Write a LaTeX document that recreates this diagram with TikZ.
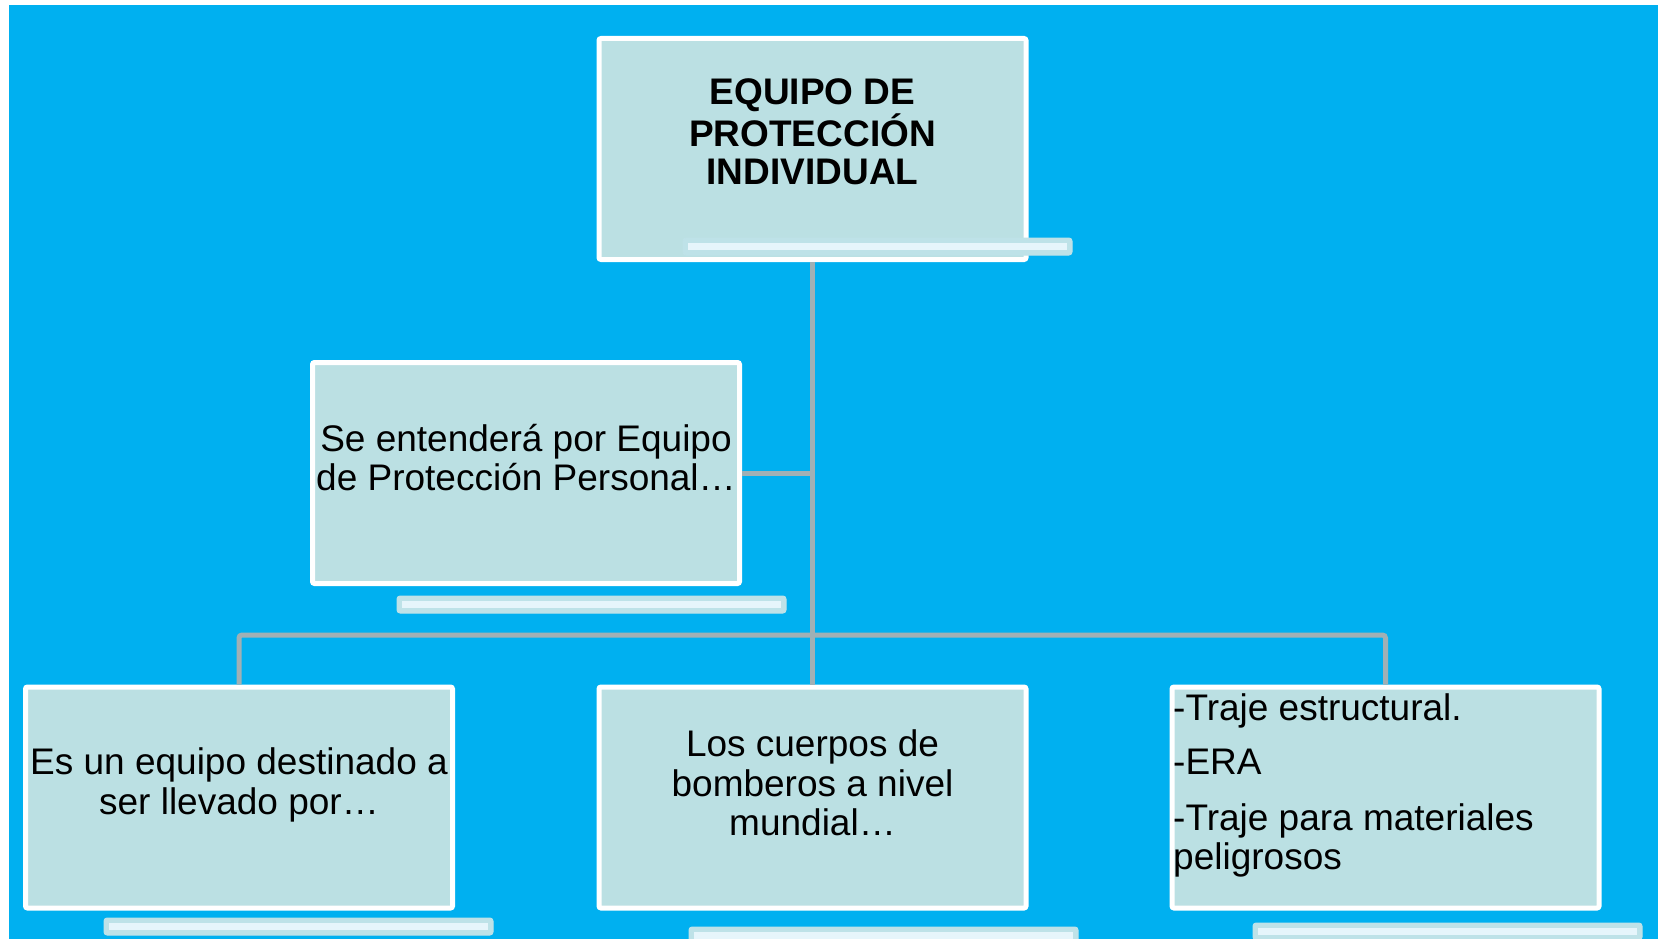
\documentclass[tikz,border=0pt]{standalone}
\usepackage{fontspec}
\setmainfont{Liberation Sans}
\usepackage{tikz}
\usetikzlibrary{positioning}

\definecolor{fondo}{RGB}{0,176,240}
\definecolor{caja}{RGB}{187,224,227}
\definecolor{linea}{RGB}{160,176,181}
\definecolor{barra}{RGB}{190,226,232}
\definecolor{barraint}{RGB}{230,245,251}

\begin{document}
\begin{tikzpicture}[x=1pt,y=-1pt]

	\tikzstyle caja org=[draw=white, line width=5pt, fill=caja, rounded corners=2pt, minimum width=427pt, minimum height=221pt, inner sep=0pt];
	\tikzstyle texto org=[align=center, inner sep=0pt, font=\fontsize{37}{39.5}\selectfont];
	\tikzstyle conectores=[draw=linea, line width=5pt, rounded corners=3pt];
	\tikzstyle barra texto=[fill=barra, draw=barra, line width=1pt, rounded corners=3pt];

	\useasboundingbox (0,0) rectangle (1660,939);
	\fill[fondo] (9,5) rectangle (1658,939);

	\node[caja org] (raiz) at (812.5,149) {};
	\node[caja org] (definicion) at (526,473) {};
	\node[caja org] (destinado) at (239,797.5) {};
	\node[caja org] (bomberos) at (812.5,797.5) {};
	\node[caja org] (trajes) at (1385.5,797.5) {};
	\coordinate (cruce) at (812.5,635);

	\draw[conectores] (raiz.south) -- (bomberos.north);
	\draw[conectores] (definicion.east) -- (definicion.east -| raiz.south);
	\draw[conectores] (destinado.north) |- (cruce) -| (trajes.north);

	%barras bajo las cajas
	\foreach \x/\y in {683/238,397/596,104/918,689/927,1253/923}
		{\draw[barra texto] (\x,\y) rectangle ++(389,17);
		\fill[barraint] (\x+5,\y+4.5) rectangle ++(379,7);}

	\node[texto org, font=\fontsize{37}{38.5}\selectfont\bfseries] (raiz-t) at ([yshift=17pt]raiz.center) {EQUIPO DE\\PROTECCIÓN\\INDIVIDUAL};
	\node[texto org] (definicion-t) at ([yshift=15.5pt]definicion.center) {Se entenderá por Equipo\\de Protección Personal…};
	\node[texto org] (destinado-t) at ([yshift=12.5pt]destinado.center) {Es un equipo destinado a\\ser llevado por…};
	\node[texto org] (bomberos-t) at ([yshift=14.5pt]bomberos.center) {Los cuerpos de\\bomberos a nivel\\mundial…};
	\node[texto org, align=left, anchor=north west, font=\fontsize{37}{39}\selectfont] (trajes-t) at ([xshift=3.5pt,yshift=-8.5pt]trajes.north west) {-Traje estructural.\\[15pt]-ERA\\[17pt]-Traje para materiales\\peligrosos};

\end{tikzpicture}
\end{document}
